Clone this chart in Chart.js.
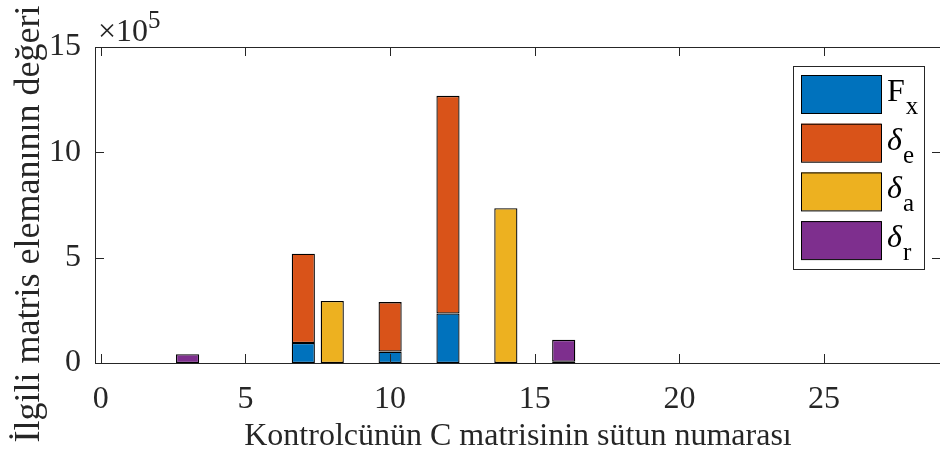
<!DOCTYPE html>
<html>
<head>
<meta charset="utf-8">
<script src="https://cdn.jsdelivr.net/npm/chart.js@4/dist/chart.umd.min.js"></script>
<style>
  html, body { margin: 0; padding: 0; background: #fff; overflow: hidden; }
  #wrap { width: 945px; height: 457px; }
</style>
</head>
<body>
<div id="wrap"><canvas id="grafik" width="945" height="457"></canvas></div>
<script>
// sütun numaraları (1..28)
const sutunlar = [1, 2, 3, 4, 5, 6, 7, 8, 9, 10, 11, 12, 13, 14, 15, 16, 17, 18, 19, 20, 21, 22, 23, 24, 25, 26, 27, 28];

// her girişe ait C matrisi eleman değerleri
const degerFx     = [0, 0, 0, 0, 0, 0, 95000, 0, 0, 54000, 0, 235000, 0, 0, 0, 0, 0, 0, 0, 0, 0, 0, 0, 0, 0, 0, 0, 0];
const degerDeltaE = [0, 0, 0, 0, 0, 0, 424000, 0, 0, 235000, 0, 1033000, 0, 0, 0, 0, 0, 0, 0, 0, 0, 0, 0, 0, 0, 0, 0, 0];
const degerDeltaA = [0, 0, 0, 0, 0, 0, 0, 294000, 0, 0, 0, 0, 0, 735000, 0, 6000, 0, 0, 0, 0, 0, 0, 0, 0, 0, 0, 0, 0];
const degerDeltaR = [0, 0, 42000, 0, 0, 0, 0, 0, 0, 0, 0, 0, 0, 0, 0, 104000, 0, 0, 0, 0, 0, 0, 0, 0, 0, 0, 0, 0];

const xTikler = [0, 5, 10, 15, 20, 25];
const yTikler = [0, 500000, 1000000, 1500000];

// lejant: ana harf + alt indis
const seriAdlari = [
  { ana: 'F', alt: 'x', italik: false },
  { ana: 'δ', alt: 'e', italik: true },
  { ana: 'δ', alt: 'a', italik: true },
  { ana: 'δ', alt: 'r', italik: true }
];
const renkler = ['#0072BD', '#D95319', '#EDB120', '#7E2F8E'];
const yBaslik = 'İlgili matris elemanının değeri';

const FONT = '"Liberation Serif", "Times New Roman", serif';
const YAZI = '#262626';

function noktalar(seri) {
  return seri.map((v, i) => ({ x: sutunlar[i], y: v }));
}

// eksen kutusu, içe dönük tikler, ×10^5 çarpanı ve dikey eksen başlığı
const kutuEklentisi = {
  id: 'kutu',
  afterDraw(chart) {
    const ctx = chart.ctx;
    const a = chart.chartArea;
    const xs = chart.scales.x, ys = chart.scales.y;
    ctx.save();
    ctx.strokeStyle = YAZI;
    ctx.lineWidth = 1;
    ctx.beginPath();
    ctx.rect(a.left + 0.5, a.top + 0.5, a.right - a.left - 1, a.bottom - a.top);
    xTikler.forEach(t => {
      const px = Math.round(xs.getPixelForValue(t)) + 0.5;
      ctx.moveTo(px, a.bottom); ctx.lineTo(px, a.bottom - 9);
      ctx.moveTo(px, a.top); ctx.lineTo(px, a.top + 9);
    });
    yTikler.forEach(t => {
      const py = Math.round(ys.getPixelForValue(t)) + 0.5;
      ctx.moveTo(a.left, py); ctx.lineTo(a.left + 9, py);
      ctx.moveTo(a.right, py); ctx.lineTo(a.right - 9, py);
    });
    ctx.stroke();

    ctx.fillStyle = YAZI;
    ctx.textBaseline = 'alphabetic';
    ctx.textAlign = 'left';
    ctx.font = '32px ' + FONT;
    ctx.fillText('×10', a.left + 3, a.top - 6);
    const w = ctx.measureText('×10').width;
    ctx.font = '25px ' + FONT;
    ctx.fillText('5', a.left + 3 + w, a.top - 19);

    // dikey başlık
    ctx.translate(30, 224);
    ctx.rotate(-Math.PI / 2);
    ctx.textAlign = 'center';
    ctx.textBaseline = 'middle';
    ctx.font = '36px ' + FONT;
    ctx.fillText(yBaslik, 0, 0);
    ctx.restore();
  }
};

// alt indisli lejant kutusu
const lejantEklentisi = {
  id: 'lejant',
  afterDraw(chart) {
    const ctx = chart.ctx;
    const bx = 793, by = 66, bw = 131, bh = 203;
    ctx.save();
    ctx.fillStyle = '#fff';
    ctx.fillRect(bx, by, bw, bh);
    ctx.strokeStyle = '#262626';
    ctx.lineWidth = 1;
    ctx.strokeRect(bx + 0.5, by + 0.5, bw, bh);
    chart.data.datasets.forEach((ds, i) => {
      const sy = 75 + i * 48.7;
      ctx.fillStyle = ds.backgroundColor;
      ctx.fillRect(801, sy, 80, 38);
      ctx.strokeStyle = '#000';
      ctx.strokeRect(801.5, sy + 0.5, 80, 38);
      const ad = seriAdlari[i];
      ctx.fillStyle = '#000';
      ctx.textAlign = 'left';
      ctx.textBaseline = 'alphabetic';
      ctx.font = (ad.italik ? 'italic ' : '') + '32px ' + FONT;
      ctx.fillText(ad.ana, 887, sy + 26);
      const w = ctx.measureText(ad.ana).width;
      ctx.font = '25px ' + FONT;
      ctx.fillText(ad.alt, 888 + w, sy + 39);
    });
    ctx.restore();
  }
};

const seriler = [degerFx, degerDeltaE, degerDeltaA, degerDeltaR];

new Chart(document.getElementById('grafik'), {
  type: 'bar',
  data: {
    datasets: seriler.map((s, i) => ({
      label: seriAdlari[i].ana + seriAdlari[i].alt,
      data: noktalar(s),
      backgroundColor: renkler[i],
      borderColor: '#000',
      borderWidth: 1.3,
      borderSkipped: false,
      barPercentage: 0.8,
      categoryPercentage: 1.0
    }))
  },
  options: {
    responsive: false,
    animation: false,
    devicePixelRatio: 1,
    layout: { padding: { top: 47, right: 4, left: 0, bottom: 0 } },
    plugins: {
      legend: { display: false },
      tooltip: { enabled: false }
    },
    scales: {
      x: {
        type: 'linear',
        stacked: true,
        offset: false,
        min: -0.2,
        max: 29.04,
        afterFit(s) { s.height = 94; },
        afterBuildTicks(s) { s.ticks = xTikler.map(v => ({ value: v })); },
        grid: { display: false, drawTicks: false },
        border: { display: false },
        ticks: {
          color: YAZI,
          padding: 17,
          maxRotation: 0,
          font: { family: FONT, size: 32 }
        },
        title: {
          display: true,
          text: 'Kontrolcünün C matrisinin sütun numarası',
          color: YAZI,
          padding: { top: 0, bottom: 1 },
          font: { family: FONT, size: 32 }
        }
      },
      y: {
        stacked: true,
        min: 0,
        max: 1500000,
        afterFit(s) { s.width = 95; },
        afterBuildTicks(s) { s.ticks = yTikler.map(v => ({ value: v })); },
        grid: { display: false, drawTicks: false },
        border: { display: false },
        ticks: {
          color: YAZI,
          padding: 14,
          font: { family: FONT, size: 32 },
          callback: v => String(v / 100000)
        }
      }
    }
  },
  plugins: [kutuEklentisi, lejantEklentisi]
});
</script>
</body>
</html>
